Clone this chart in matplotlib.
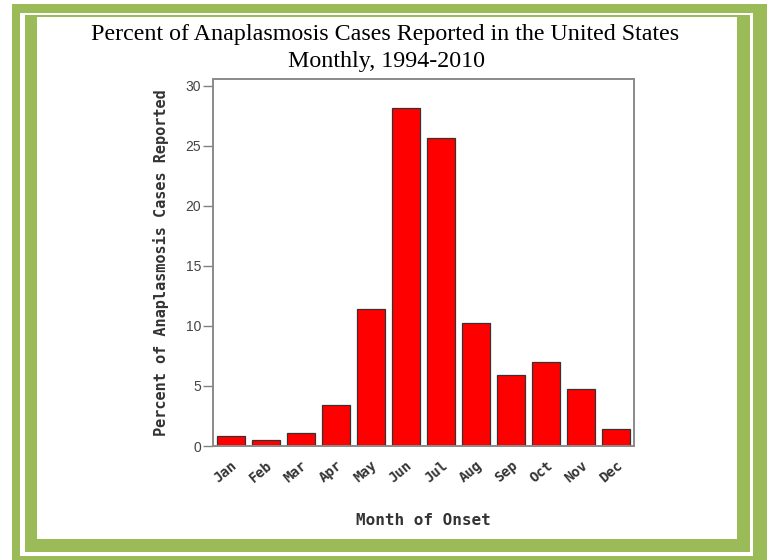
import matplotlib
matplotlib.use('Agg')
import matplotlib.pyplot as plt
from matplotlib.patches import Rectangle

# Monthly share of reported anaplasmosis cases (percent)
months = ['Jan', 'Feb', 'Mar', 'Apr', 'May', 'Jun',
          'Jul', 'Aug', 'Sep', 'Oct', 'Nov', 'Dec']
percent = [0.8, 0.5, 1.05, 3.4, 11.4, 28.15,
           25.65, 10.25, 5.95, 7.0, 4.75, 1.45]
yticks = [0, 5, 10, 15, 20, 25, 30]

W, H = 767, 560
fig = plt.figure(figsize=(W / 100, H / 100), dpi=100)
fig.patch.set_facecolor('white')

green = '#9bbb59'

# frame: outer band, thin white gap, inner band
def frame_rect(x0, y0, x1, y1, color):
    fig.patches.append(Rectangle((x0 / W, 1 - y1 / H), (x1 - x0) / W, (y1 - y0) / H,
                                 transform=fig.transFigure, facecolor=color,
                                 edgecolor='none', zorder=-10))

frame_rect(12, 4, 767, 560, green)
frame_rect(20, 13, 753, 556, 'white')
frame_rect(25, 15, 750, 552, green)
frame_rect(37, 17, 737, 539, 'white')

ax = fig.add_axes([213 / W, 1 - 446 / H, (634 - 213) / W, (446 - 79) / H])
ax.set_facecolor('white')

x = list(range(len(months)))
ax.bar(x, percent, width=0.8, color='#ff0000', edgecolor='#333333', linewidth=0.9)

ax.set_xlim(-0.5, len(months) - 0.5)
ax.set_ylim(0, 30.58)
ax.set_yticks(yticks)
ax.set_yticklabels([str(v) for v in yticks], fontsize=10, color='#444444',
                   family='Liberation Sans')
ax.set_xticks(x)
ax.set_xticklabels(months, rotation=40, ha='right', rotation_mode='anchor',
                   fontsize=10, family='DejaVu Sans Mono', fontweight='bold',
                   color='#333333')
ax.tick_params(axis='y', direction='out', length=7, width=1, color='#808080', pad=1.5)
ax.tick_params(axis='x', length=0, pad=9)

for s in ax.spines.values():
    s.set_color('#8a8a8a')
    s.set_linewidth(1.4)

ax.set_ylabel('Percent of Anaplasmosis Cases Reported', family='DejaVu Sans Mono',
              fontsize=11, fontweight='bold', color='#333333', labelpad=12)
ax.set_xlabel('Month of Onset', family='DejaVu Sans Mono', fontsize=11.5,
              fontweight='bold', color='#333333', labelpad=20)

fig.text(385 / W, 1 - 40 / H, 'Percent of Anaplasmosis Cases Reported in the United States',
         ha='center', va='baseline', family='Liberation Serif', fontsize=17.3)
fig.text(386 / W, 1 - 66.5 / H, 'Monthly, 1994-2010',
         ha='center', va='baseline', family='Liberation Serif', fontsize=17.3)

fig.savefig('out.png', dpi=100)
